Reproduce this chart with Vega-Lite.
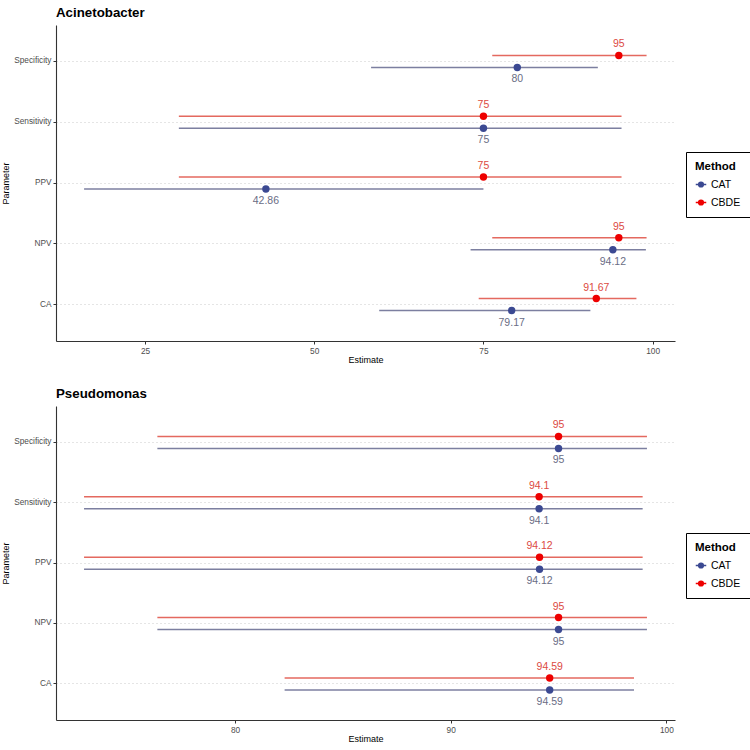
{
  "$schema": "https://vega.github.io/schema/vega-lite/v6.json",
  "background": "white",
  "padding": {"left": 1, "top": 5, "right": 0, "bottom": 0},
  "spacing": 21,
  "config": {
    "font": "Liberation Sans",
    "view": {"stroke": null},
    "axis": {
      "domainColor": "#333333", "domainWidth": 1.1,
      "tickColor": "#333333", "tickSize": 3, "tickWidth": 1,
      "labelColor": "#4D4D4D", "labelFontSize": 8.3, "labelFont": "Liberation Sans",
      "titleColor": "#000000", "titleFontSize": 9, "titleFontWeight": "normal", "titleFont": "Liberation Sans"
    },
    "legend": {
      "titleFontSize": 11.5, "titleFontWeight": "bold", "titleColor": "#000000", "titleFont": "Liberation Sans",
      "labelFontSize": 10.5, "labelColor": "#000000", "labelFont": "Liberation Sans",
      "strokeColor": "#000000", "padding": 9, "rowPadding": 6, "titlePadding": 6
    }
  },
  "datasets": {
    "est": [
      {"panel": "Acinetobacter", "param": "Specificity", "method": "CAT", "est": 80, "lo": 58.4, "hi": 91.9},
      {"panel": "Acinetobacter", "param": "Specificity", "method": "CBDE", "est": 95, "lo": 76.3, "hi": 99.1},
      {"panel": "Acinetobacter", "param": "Sensitivity", "method": "CAT", "est": 75, "lo": 30.0, "hi": 95.4},
      {"panel": "Acinetobacter", "param": "Sensitivity", "method": "CBDE", "est": 75, "lo": 30.0, "hi": 95.4},
      {"panel": "Acinetobacter", "param": "PPV", "method": "CAT", "est": 42.86, "lo": 16.0, "hi": 75.0},
      {"panel": "Acinetobacter", "param": "PPV", "method": "CBDE", "est": 75, "lo": 30.0, "hi": 95.4},
      {"panel": "Acinetobacter", "param": "NPV", "method": "CAT", "est": 94.12, "lo": 73.1, "hi": 99.0},
      {"panel": "Acinetobacter", "param": "NPV", "method": "CBDE", "est": 95, "lo": 76.3, "hi": 99.1},
      {"panel": "Acinetobacter", "param": "CA", "method": "CAT", "est": 79.17, "lo": 59.6, "hi": 90.8},
      {"panel": "Acinetobacter", "param": "CA", "method": "CBDE", "est": 91.67, "lo": 74.3, "hi": 97.6},
      {"panel": "Pseudomonas", "param": "Specificity", "method": "CAT", "est": 95, "lo": 76.4, "hi": 99.1},
      {"panel": "Pseudomonas", "param": "Specificity", "method": "CBDE", "est": 95, "lo": 76.4, "hi": 99.1},
      {"panel": "Pseudomonas", "param": "Sensitivity", "method": "CAT", "est": 94.1, "lo": 73.0, "hi": 98.9},
      {"panel": "Pseudomonas", "param": "Sensitivity", "method": "CBDE", "est": 94.1, "lo": 73.0, "hi": 98.9},
      {"panel": "Pseudomonas", "param": "PPV", "method": "CAT", "est": 94.12, "lo": 73.0, "hi": 98.9},
      {"panel": "Pseudomonas", "param": "PPV", "method": "CBDE", "est": 94.12, "lo": 73.0, "hi": 98.9},
      {"panel": "Pseudomonas", "param": "NPV", "method": "CAT", "est": 95, "lo": 76.4, "hi": 99.1},
      {"panel": "Pseudomonas", "param": "NPV", "method": "CBDE", "est": 95, "lo": 76.4, "hi": 99.1},
      {"panel": "Pseudomonas", "param": "CA", "method": "CAT", "est": 94.59, "lo": 82.3, "hi": 98.5},
      {"panel": "Pseudomonas", "param": "CA", "method": "CBDE", "est": 94.59, "lo": 82.3, "hi": 98.5}
    ]
  },
  "resolve": {"scale": {"x": "independent"}, "legend": {"color": "independent"}},
  "vconcat": [
    {
      "width": 619, "height": 316,
      "title": {"text": "Acinetobacter", "anchor": "start", "frame": "group", "fontSize": 13.3, "fontWeight": "bold", "color": "#000000", "offset": 6},
      "data": {"name": "est"},
      "transform": [{"filter": "datum.panel === 'Acinetobacter'"}],
      "encoding": {
        "y": {"field": "param", "type": "nominal", "sort": ["Specificity", "Sensitivity", "PPV", "NPV", "CA"], "title": "Parameter",
              "scale": {"paddingInner": 0, "paddingOuter": 0.1},
              "axis": {"bandPosition": 0.5, "grid": true, "gridDash": [1, 3], "gridColor": "#C4C4C4", "gridWidth": 0.9, "titlePadding": 3, "labelPadding": 2}},
        "yOffset": {"field": "method", "type": "nominal", "scale": {"type": "band", "domain": ["_a", "CBDE", "CAT", "_b"], "paddingInner": 0, "paddingOuter": 0.533}}
      },
      "layer": [
        {"mark": {"type": "rule", "strokeWidth": 1.5},
         "encoding": {"x": {"field": "lo", "type": "quantitative", "title": "Estimate", "scale": {"domain": [11.85, 103.3], "nice": false, "zero": false}, "axis": {"values": [25, 50, 75, 100], "grid": false, "titlePadding": 1}},
                      "x2": {"field": "hi"},
                      "stroke": {"field": "method", "type": "nominal", "scale": {"domain": ["CAT", "CBDE"], "range": ["#7C7FA0", "#E4695F"]}, "legend": null}}},
        {"mark": {"type": "point", "filled": true, "size": 55, "opacity": 1},
         "encoding": {"x": {"field": "est", "type": "quantitative"},
                      "color": {"field": "method", "type": "nominal", "title": "Method",
                  "scale": {"domain": ["CAT", "CBDE"], "range": ["#3B4992", "#EE0000"]},
                  "legend": {"orient": "none", "legendX": 630, "legendY": 127, "symbolType": "M-1,0H1M-0.45,0A0.45,0.45,0,1,1,0.45,0A0.45,0.45,0,1,1,-0.45,0Z", "symbolSize": 110, "symbolStrokeWidth": 1.5, "symbolOpacity": 1,
                             "encode": {"symbols": {"update": {"stroke": {"field": "value", "scale": "color"}}}}}}}},
        {"transform": [{"filter": "datum.method === 'CBDE'"}],
         "mark": {"type": "text", "dy": -11, "fontSize": 10.5, "fill": "#DC4A42"},
         "encoding": {"x": {"field": "est", "type": "quantitative"}, "text": {"field": "est", "type": "nominal"}}},
        {"transform": [{"filter": "datum.method === 'CAT'"}],
         "mark": {"type": "text", "dy": 12, "fontSize": 10.5, "fill": "#6A6D85"},
         "encoding": {"x": {"field": "est", "type": "quantitative"}, "text": {"field": "est", "type": "nominal"}}}
      ]
    },
    {
      "width": 619, "height": 314,
      "title": {"text": "Pseudomonas", "anchor": "start", "frame": "group", "fontSize": 13.3, "fontWeight": "bold", "color": "#000000", "offset": 6},
      "data": {"name": "est"},
      "transform": [{"filter": "datum.panel === 'Pseudomonas'"}],
      "encoding": {
        "y": {"field": "param", "type": "nominal", "sort": ["Specificity", "Sensitivity", "PPV", "NPV", "CA"], "title": "Parameter",
              "scale": {"paddingInner": 0, "paddingOuter": 0.1},
              "axis": {"bandPosition": 0.5, "grid": true, "gridDash": [1, 3], "gridColor": "#C4C4C4", "gridWidth": 0.9, "titlePadding": 3, "labelPadding": 2}},
        "yOffset": {"field": "method", "type": "nominal", "scale": {"type": "band", "domain": ["_a", "CBDE", "CAT", "_b"], "paddingInner": 0, "paddingOuter": 0.533}}
      },
      "layer": [
        {"mark": {"type": "rule", "strokeWidth": 1.5},
         "encoding": {"x": {"field": "lo", "type": "quantitative", "title": "Estimate", "scale": {"domain": [71.7, 100.4], "nice": false, "zero": false}, "axis": {"values": [80, 90, 100], "grid": false, "titlePadding": 1}},
                      "x2": {"field": "hi"},
                      "stroke": {"field": "method", "type": "nominal", "scale": {"domain": ["CAT", "CBDE"], "range": ["#7C7FA0", "#E4695F"]}, "legend": null}}},
        {"mark": {"type": "point", "filled": true, "size": 55, "opacity": 1},
         "encoding": {"x": {"field": "est", "type": "quantitative"},
                      "color": {"field": "method", "type": "nominal", "title": "Method",
                  "scale": {"domain": ["CAT", "CBDE"], "range": ["#3B4992", "#EE0000"]},
                  "legend": {"orient": "none", "legendX": 630, "legendY": 127, "symbolType": "M-1,0H1M-0.45,0A0.45,0.45,0,1,1,0.45,0A0.45,0.45,0,1,1,-0.45,0Z", "symbolSize": 110, "symbolStrokeWidth": 1.5, "symbolOpacity": 1,
                             "encode": {"symbols": {"update": {"stroke": {"field": "value", "scale": "color"}}}}}}}},
        {"transform": [{"filter": "datum.method === 'CBDE'"}],
         "mark": {"type": "text", "dy": -11, "fontSize": 10.5, "fill": "#DC4A42"},
         "encoding": {"x": {"field": "est", "type": "quantitative"}, "text": {"field": "est", "type": "nominal"}}},
        {"transform": [{"filter": "datum.method === 'CAT'"}],
         "mark": {"type": "text", "dy": 12, "fontSize": 10.5, "fill": "#6A6D85"},
         "encoding": {"x": {"field": "est", "type": "quantitative"}, "text": {"field": "est", "type": "nominal"}}}
      ]
    }
  ]
}
